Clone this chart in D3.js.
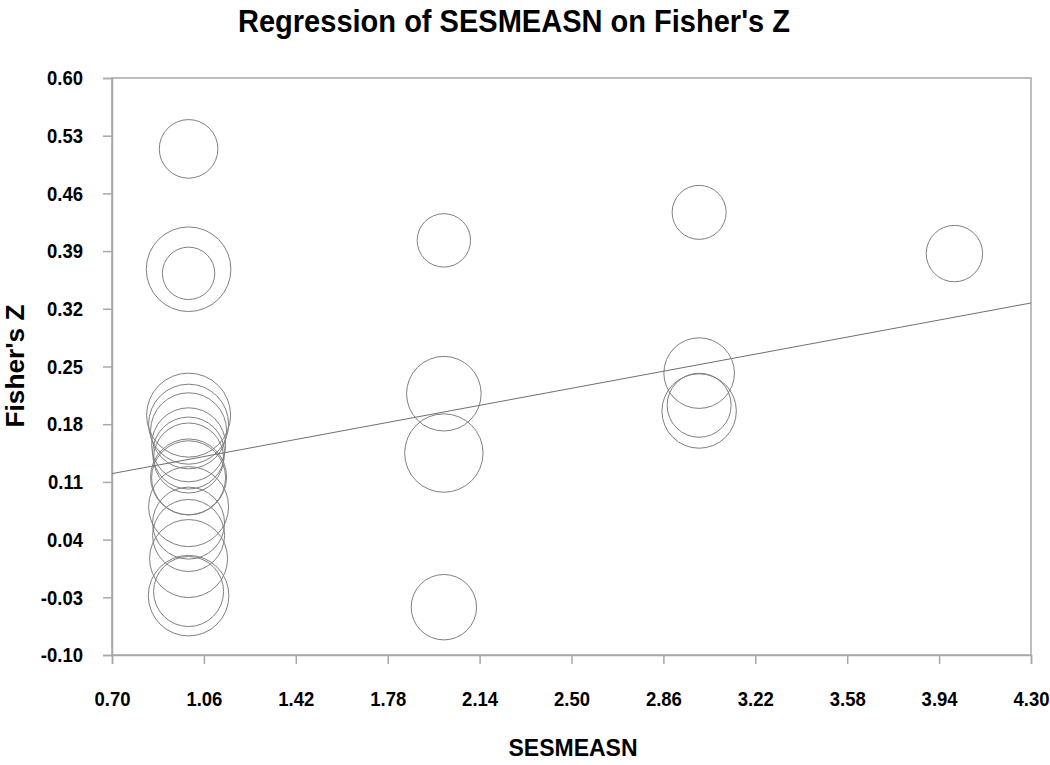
<!DOCTYPE html>
<html><head><meta charset="utf-8">
<script src="https://cdn.jsdelivr.net/npm/d3@7"></script>
<style>body{margin:0;background:#fff}svg{display:block}text{font-family:"Liberation Sans",Arial,sans-serif;font-weight:bold;fill:#000}</style>
</head><body><svg id="chart" width="1050" height="765"></svg>
<script>
// Data (SESMEASN, Fisher's Z, study weight)
const sesmeasn = [1,1,1,1,1,1,1,1,1,1,1,1,1,1,1,1,1, 2,2,2,2, 3,3,3,3, 4];
const fisherZ  = [0.514,0.368,0.363,0.191,0.180,0.172,0.155,0.145,0.139,0.116,0.115,0.080,0.060,0.045,0.017,-0.023,-0.028,
                  0.403,0.217,0.145,-0.042, 0.437,0.242,0.203,0.196, 0.387];
const weights  = [29.3,42.3,26.2,42,40,38,37,36,35,38,37,40,36,36,39,35,40.3,
                  26.7,37.3,39.2,32.7, 27,35.3,32,37.2, 28.2];
const xTicks = [0.70,1.06,1.42,1.78,2.14,2.50,2.86,3.22,3.58,3.94,4.30];
const yTicks = [-0.10,-0.03,0.04,0.11,0.18,0.25,0.32,0.39,0.46,0.53,0.60];
const regIntercept = 0.0798, regSlope = 0.0575;
const title = "Regression of SESMEASN on Fisher's Z";
const xLabel = "SESMEASN", yLabel = "Fisher's Z";

const svg = d3.select("#chart");
const L = 112, R = 1031, T = 78, B = 655;
const x = d3.scaleLinear().domain([0.70, 4.30]).range([L, R]);
const y = d3.scaleLinear().domain([-0.10, 0.60]).range([B, T]);
const r = d3.scaleLinear().domain([0, 45]).range([0, 45]);
const axisCol = "#a8a8a8";
const fmt = v => d3.format(".2f")(v).replace("\u2212", "-");

function condense(sel, factor) {
  sel.each(function () {
    const w = this.getComputedTextLength();
    d3.select(this).attr("textLength", w * factor).attr("lengthAdjust", "spacingAndGlyphs");
  });
}

// frame
svg.append("rect").attr("x", L).attr("y", T).attr("width", R - L).attr("height", B - T)
  .attr("fill", "none").attr("stroke", axisCol).attr("stroke-width", 1.5);

const xAxis = svg.append("g").attr("transform", `translate(0,${B})`)
  .call(d3.axisBottom(x).tickValues(xTicks).tickSize(9).tickPadding(27).tickFormat(fmt));
const yAxis = svg.append("g").attr("transform", `translate(${L},0)`)
  .call(d3.axisLeft(y).tickValues(yTicks).tickSize(9).tickPadding(20).tickFormat(fmt));
[xAxis, yAxis].forEach(g => {
  g.select(".domain").attr("stroke", axisCol).attr("stroke-width", 1.5);
  g.selectAll(".tick line").attr("stroke", axisCol).attr("stroke-width", 1.5);
  g.selectAll(".tick text").style("font-size", "21px").style("font-family", "'Liberation Sans',Arial,sans-serif").style("font-weight", "bold").attr("fill", "#000");
  condense(g.selectAll(".tick text"), 0.88);
});

// bubbles
const data = sesmeasn.map((d, i) => ({x: d, y: fisherZ[i], w: weights[i]}));
svg.append("g").selectAll("circle").data(data).join("circle")
  .attr("cx", d => x(d.x)).attr("cy", d => y(d.y)).attr("r", d => r(d.w))
  .attr("fill", "none").attr("stroke", "#808080").attr("stroke-width", 1);

// regression line
const reg = [0.70, 4.30].map(v => ({x: v, y: regIntercept + regSlope * v}));
svg.append("path").datum(reg)
  .attr("d", d3.line().x(d => x(d.x)).y(d => y(d.y)))
  .attr("stroke", "#707070").attr("stroke-width", 1).attr("fill", "none");

// texts
svg.append("text").attr("x", 514).attr("y", 32).attr("text-anchor", "middle")
  .style("font-size", "31px").attr("textLength", 552).attr("lengthAdjust", "spacingAndGlyphs").text(title);
svg.append("text").attr("x", 573).attr("y", 756).attr("text-anchor", "middle")
  .style("font-size", "24px").attr("textLength", 129).attr("lengthAdjust", "spacingAndGlyphs").text(xLabel);
svg.append("text").attr("transform", "translate(24,366) rotate(-90)").attr("text-anchor", "middle")
  .style("font-size", "25px").attr("textLength", 123).attr("lengthAdjust", "spacingAndGlyphs").text(yLabel);
</script></body></html>
